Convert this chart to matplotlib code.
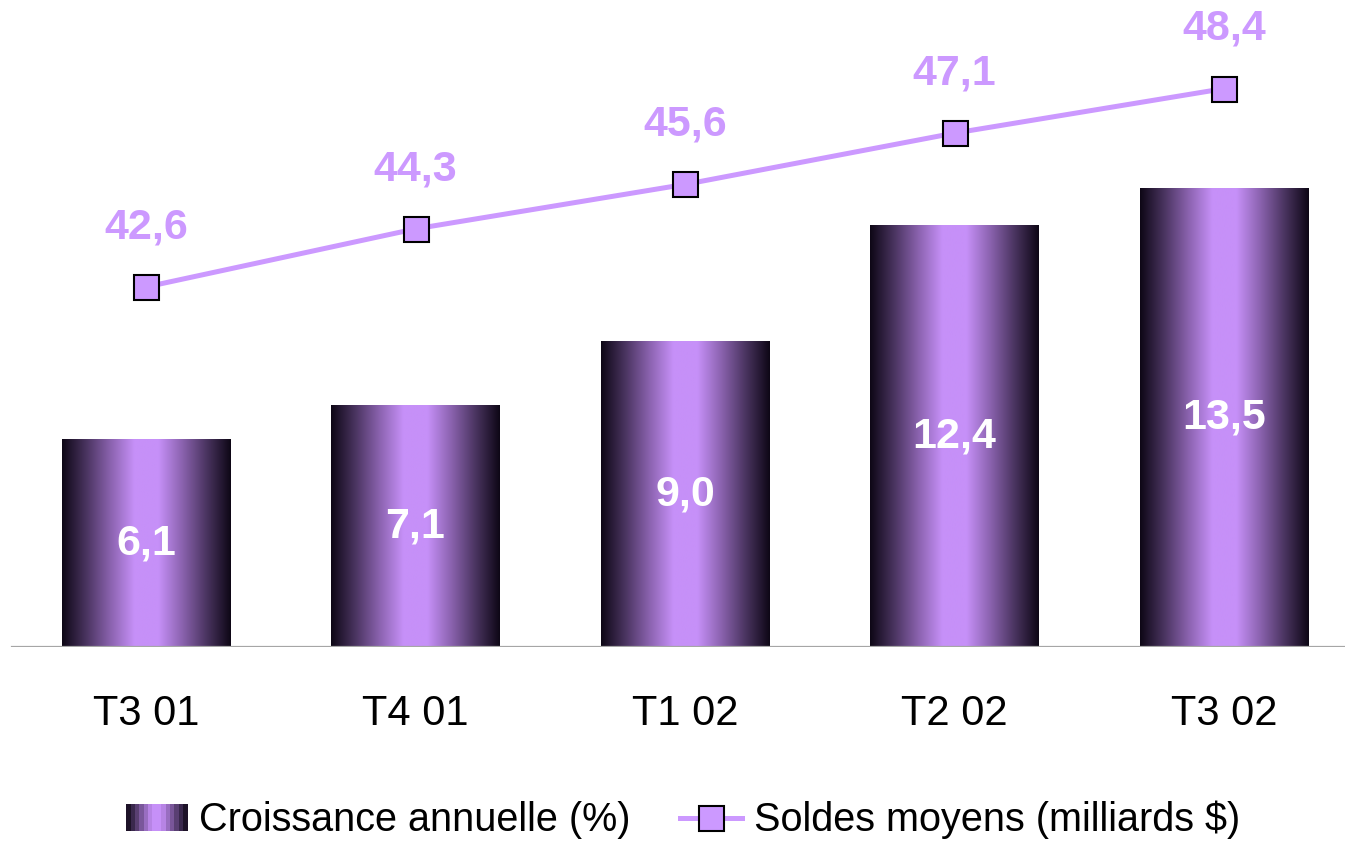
import numpy as np
import matplotlib
matplotlib.use('Agg')
import matplotlib.pyplot as plt
from matplotlib.colors import LinearSegmentedColormap
from matplotlib.legend_handler import HandlerBase
from matplotlib.patches import Rectangle
from matplotlib.lines import Line2D

plt.rcParams['font.family'] = ['Liberation Sans', 'DejaVu Sans']

quarters = ['T3 01', 'T4 01', 'T1 02', 'T2 02', 'T3 02']
growth = [6.1, 7.1, 9.0, 12.4, 13.5]
balances = [42.6, 44.3, 45.6, 47.1, 48.4]

light = '#cc99ff'
bar_cmap = LinearSegmentedColormap.from_list(
    'bar', ['#0e0716', '#4a3460', '#8a62ae', '#c690f8', '#c690f8',
            '#8a62ae', '#4a3460', '#0e0716'])


class GradientHandler(HandlerBase):
    def create_artists(self, legend, orig_handle, xdescent, ydescent,
                       width, height, fontsize, trans):
        n = 14
        arts = []
        for i in range(n):
            c = bar_cmap((i + 0.5) / n)
            r = Rectangle((-xdescent + width * i / n, -ydescent), width / n + 0.3,
                          height, facecolor=c, edgecolor='none', transform=trans)
            arts.append(r)
        return arts


fig = plt.figure(figsize=(13.45, 8.41), dpi=100)
ax = fig.add_axes([0, 1 - 647 / 841, 1, 647 / 841])
ax2 = ax.twinx()

x = np.arange(len(quarters))
bw = 0.627
ax.set_xlim(-146 / 269.5, (1345 - 146) / 269.5)
ax.set_ylim(0, 647 / 34.0)
ax2.set_ylim(42.6 - 360 / 34.2, 42.6 + 287 / 34.2)

grad = np.linspace(0, 1, 256).reshape(1, -1)
for xi, g in zip(x, growth):
    ax.imshow(grad, cmap=bar_cmap, aspect='auto',
              extent=(xi - bw / 2, xi + bw / 2, 0, g), zorder=2,
              interpolation='bilinear')
    ax.text(xi, g / 2, f'{g:.1f}'.replace('.', ','), ha='center', va='center',
            color='white', fontsize=31, fontweight='bold', zorder=3)

ax.axhline(0, xmin=12 / 1345, xmax=1, color='#a6a6a6', lw=1.6, zorder=4)

ax2.plot(x, balances, color=light, lw=3.6, marker='s', markersize=18,
         markerfacecolor=light, markeredgecolor='black', markeredgewidth=1.5,
         zorder=5)
for xi, b in zip(x, balances):
    ax2.annotate(f'{b:.1f}'.replace('.', ','), (xi, b), xytext=(0, 43),
                 textcoords='offset points', ha='center', va='center',
                 color=light, fontsize=31, fontweight='bold')

ax.set_xticks(x)
ax.set_xticklabels(quarters, fontsize=30)
ax.tick_params(axis='x', length=0, pad=34)
ax.set_yticks([])
ax2.set_yticks([])
for a in (ax, ax2):
    for s in a.spines.values():
        s.set_visible(False)
ax.set_zorder(1)
ax2.set_zorder(2)
ax2.patch.set_visible(False)

bar_handle = Rectangle((0, 0), 1, 1)
line_handle = Line2D([], [], color=light, lw=3.6, marker='s', markersize=18,
                     markerfacecolor=light, markeredgecolor='black',
                     markeredgewidth=1.5)
fig.legend([bar_handle, line_handle],
           ['Croissance annuelle (%)', 'Soldes moyens (milliards $)'],
           handler_map={Rectangle: GradientHandler()},
           loc='center', bbox_to_anchor=(683 / 1345, 1 - 820 / 841), ncol=2,
           frameon=False, fontsize=28.5, handlelength=1.55, handleheight=0.65,
           handletextpad=0.3, columnspacing=1.25, borderpad=0)

fig.savefig('out.png', dpi=100)
